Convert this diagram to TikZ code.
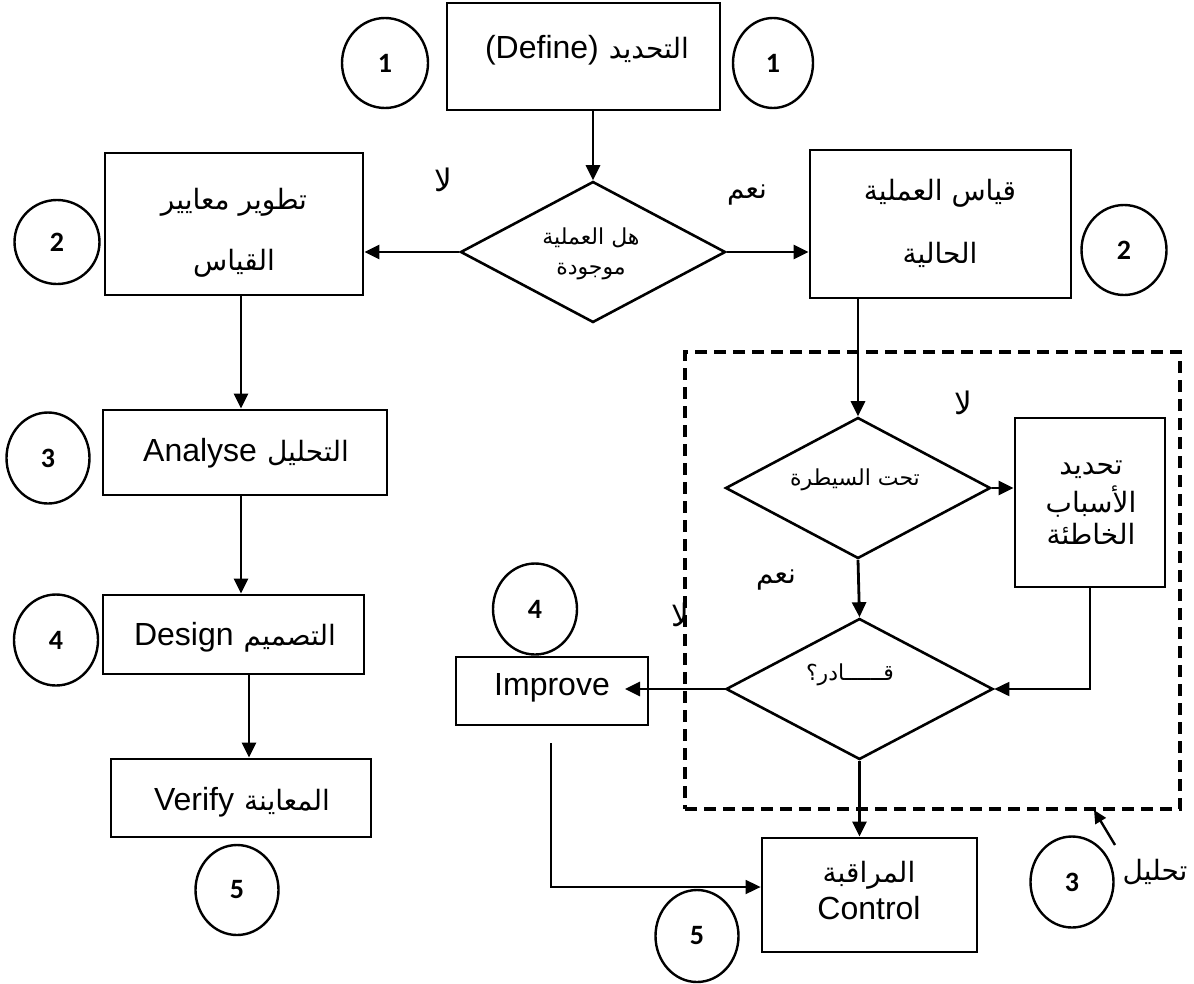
\documentclass[tikz,border=0pt]{standalone}
\usepackage{fontspec}
\setmainfont{Liberation Sans}
\newfontfamily\arabicfont[Script=Arabic]{DejaVu Sans}
\newfontfamily\numfont[BoldFont={Carlito Bold}]{Carlito}
\TeXXeTstate=1
\usetikzlibrary{shapes.geometric,arrows.meta}
% Arabic run, set right to left
\newcommand\artxt[1]{{\arabicfont\beginR #1\endR}}

\begin{document}
\begin{tikzpicture}[x=1pt,y=-1pt,
  box/.style={draw, line width=2.8pt, inner sep=0pt},
  decision/.style={draw, diamond, line width=2.6pt, inner sep=0pt,
    minimum width=265pt, minimum height=141pt},
  frame/.style={draw, line width=4pt, dash pattern=on 12pt off 7pt, inner sep=0pt},
  num/.style={draw, ellipse, line width=2.4pt, inner sep=0pt,
    font=\numfont\bfseries\fontsize{28}{28}\selectfont},
  flow/.style={line width=2.8pt, -{Triangle[length=15pt,width=14pt]}},
  thinflow/.style={line width=1.8pt, -{Triangle[length=15pt,width=14pt]}},
  txt/.style={inner sep=0pt, font=\fontsize{32}{36}\selectfont},
  artx/.style={inner sep=0pt, font=\fontsize{28}{32}\selectfont},
  lab/.style={inner sep=0pt, font=\fontsize{31}{34}\selectfont},
  small/.style={inner sep=0pt, font=\fontsize{22}{26}\selectfont},
  ]
\useasboundingbox (0,0) rectangle (1194,983);

% ---------- boxes ----------
\node[box, minimum width=273pt, minimum height=107pt] (define)  at (583.5,56.5) {};
\node[box, minimum width=258pt, minimum height=142pt] (devbox)  at (234,224) {};
\node[box, minimum width=261pt, minimum height=148pt] (measbox) at (940.5,224) {};
\node[box, minimum width=284pt, minimum height=85pt]  (analyse) at (245,452.5) {};
\node[box, minimum width=261pt, minimum height=79pt]  (design)  at (233.5,634.5) {};
\node[box, minimum width=260pt, minimum height=78pt]  (verify)  at (241,798) {};
\node[box, minimum width=150pt, minimum height=169pt] (causes)  at (1090,502.5) {};
\node[box, minimum width=192pt, minimum height=68pt]  (improve) at (552,691) {};
\node[box, minimum width=215pt, minimum height=114pt] (control) at (869.5,895) {};
\node[frame, minimum width=495pt, minimum height=457pt] (frame) at (932.5,580.5) {};

% ---------- decisions ----------
\node[decision] (dia1) at (593,252) {};
\node[decision] (dia2) at (858,488) {};
\node[decision, minimum width=267pt] (dia3) at (859.5,689) {};

% ---------- numbered circles ----------
\node[num, minimum width=86pt, minimum height=90pt] (c1l) at (385,63) {1};
\node[num, minimum width=80pt, minimum height=90pt] (c1r) at (773,63) {1};
\node[num, minimum width=85pt, minimum height=84pt] (c2l) at (57,242) {2};
\node[num, minimum width=85pt, minimum height=90pt] (c2r) at (1124,250) {2};
\node[num, minimum width=83pt, minimum height=91pt] (c3l) at (48,458) {3};
\node[num, minimum width=84pt, minimum height=91pt] (c4l) at (56,640) {4};
\node[num, minimum width=83pt, minimum height=90pt] (c5l) at (237,890) {5};
\node[num, minimum width=84pt, minimum height=91pt] (c4m) at (535,609) {4};
\node[num, minimum width=83pt, minimum height=92pt] (c5m) at (697,936) {5};
\node[num, minimum width=83pt, minimum height=91pt] (c3r) at (1072,882) {3};

% ---------- texts ----------
\node[txt] (tdefine) at (587,50) {(Define)\hspace{10pt}{\fontsize{28}{32}\selectfont\artxt{التحديد}}};
\node[artx] (tdev1) at (234,202) {\artxt{تطوير معايير}};
\node[artx] (tdev2) at (234,263) {\artxt{القياس}};
\node[artx] (tmeas1) at (940,193) {\artxt{قياس العملية}};
\node[artx] (tmeas2) at (940,255) {\artxt{الحالية}};
\node[small] (tdia1a) at (591,238) {\artxt{هل العملية}};
\node[small] (tdia1b) at (591,272) {\artxt{موجودة}};
\node[small] (tdia2) at (855,480) {\artxt{تحت السيطرة}};
\node[small] (tdia3) at (850,675) {\artxt{قــــــادر؟}};
\node[artx] (tcause1) at (1091,470) {\artxt{تحديد}};
\node[artx] (tcause2) at (1091,502) {\artxt{الأسباب}};
\node[artx] (tcause3) at (1091,534) {\artxt{الخاطئة}};
\node[txt] (timprove) at (552,688) {Improve};
\node[txt] (tanalyse) at (246,453) {Analyse\hspace{10pt}{\fontsize{28}{32}\selectfont\artxt{التحليل}}};
\node[txt] (tdesign) at (235,637) {Design\hspace{10pt}{\fontsize{28}{32}\selectfont\artxt{التصميم}}};
\node[txt] (tverify) at (242,802) {Verify\hspace{10pt}{\fontsize{28}{32}\selectfont\artxt{المعاينة}}};
\node[artx] (tcontrol1) at (869,875) {\artxt{المراقبة}};
\node[txt] (tcontrol2) at (869,908) {Control};
\node[lab] (lno1) at (443,180) {\artxt{لا}};
\node[artx] (lyes1) at (747,195) {\artxt{نعم}};
\node[lab] (lno2) at (963,403) {\artxt{لا}};
\node[artx] (lyes2) at (776,580) {\artxt{نعم}};
\node[lab] (lno3) at (680,615) {\artxt{لا}};
\node[artx] (lanal) at (1155,872) {\artxt{تحليل}};

% ---------- connectors ----------
\coordinate (colA) at (241,0);
\coordinate (colB) at (249,0);
\coordinate (imptip) at (625,689);
\coordinate (impstart) at (551,743);
\coordinate (noteend) at (1115,845);
\coordinate (notetip) at (1094,810);

\draw[flow] (dia1.north |- define.south) -- (dia1.north);
\draw[flow] (dia1.west) -- (devbox.east |- dia1.west);
\draw[flow] (dia1.east) -- (measbox.west |- dia1.east);
\draw[flow] (colA |- devbox.south) -- (colA |- analyse.north);
\draw[flow] (colA |- analyse.south) -- (colA |- design.north);
\draw[flow] (colB |- design.south) -- (colB |- verify.north);
\draw[flow] (dia2.north |- measbox.south) -- (dia2.north);
\draw[flow] (dia2.east) -- (causes.west |- dia2.east);
\draw[flow] (dia2.south) -- (dia3.north);
\draw[thinflow] (causes.south) -- (causes.south |- dia3.east) -- (dia3.east);
\draw[flow] (dia3.west) -- (imptip);
\draw[thinflow] (impstart) |- ([yshift=8pt]control.west);
\draw[flow] (dia3.south) -- (dia3.south |- control.north);
\draw[line width=2.4pt, -{Triangle[length=13pt,width=12pt]}] (noteend) -- (notetip);
\end{tikzpicture}
\end{document}
